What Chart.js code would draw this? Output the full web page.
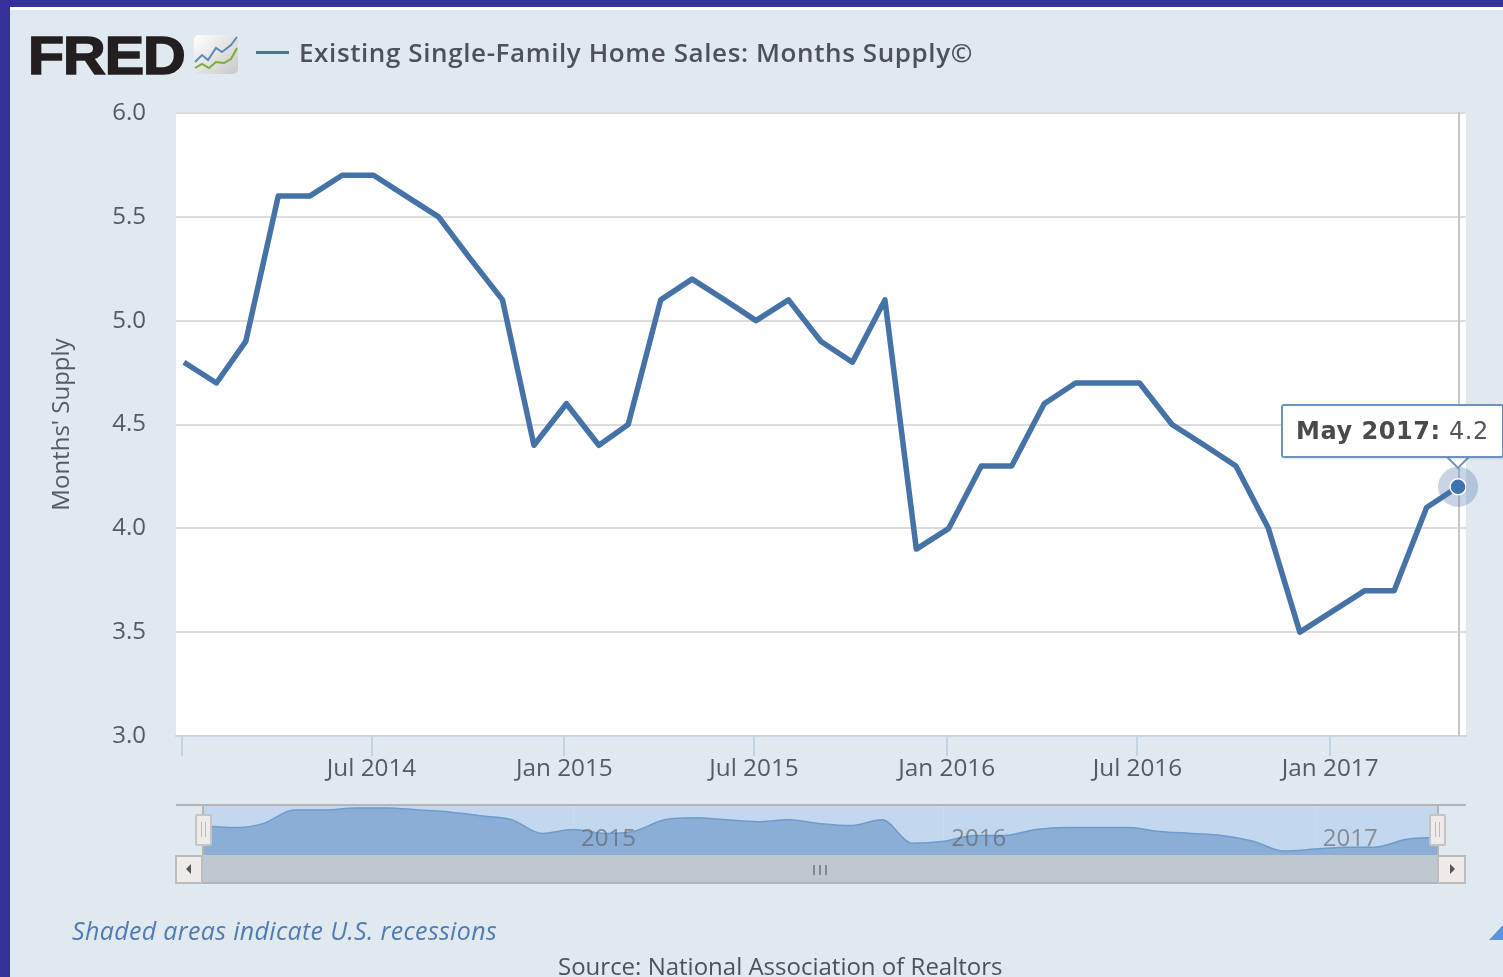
<!DOCTYPE html>
<html><head><meta charset="utf-8">
<script src="https://cdn.jsdelivr.net/npm/chart.js@4"></script>
<style>
html,body{margin:0;padding:0;width:1503px;height:977px;overflow:hidden;background:#343399}
#page{position:absolute;left:10px;top:7px;width:1493px;height:970px;background:#e0e8f0;overflow:hidden}
#wrap{position:absolute;left:0;top:0;width:1503px;height:977px;filter:blur(.7px);overflow:hidden}
#strip{position:absolute;left:10px;top:7px;width:1493px;height:3px;background:#fff}
canvas{position:absolute}
.t{position:absolute;white-space:nowrap}
#logo{left:28px;top:20px;font:bold 54px/70px "Liberation Sans";color:#231f20;-webkit-text-stroke:1.6px #231f20;letter-spacing:-1px;transform-origin:0 50%;transform:scaleX(1.095)}
#key{position:absolute;left:256px;top:51px;width:33px;height:3px;background:#4572a7}
#title{left:299px;top:35px;font:600 26px/34px "Open Sans";color:#4e5257;letter-spacing:.6px}
#shade{left:72px;top:914px;font:italic 25px/32px "Open Sans";color:#4f7cb3;letter-spacing:.33px}
#src{left:558px;top:951px;font:24px/30px "Open Sans";color:#4e5257}
#tip{position:absolute;box-sizing:border-box;background:#fff;border:2px solid #6f93bd;border-radius:3px;font:24px/50px "DejaVu Sans";color:#555;padding:0 13px;letter-spacing:.55px;white-space:nowrap;box-shadow:1px 1px 2px rgba(0,0,0,.12)}
#tip b{color:#4a4a4a}
#caret{position:absolute;width:14px;height:14px;background:#fff;border-right:2px solid #6f93bd;border-bottom:2px solid #6f93bd;transform:rotate(45deg)}
.bar{position:absolute;box-sizing:border-box}
.btn{background:#efebeb;border:2px solid #bdbdbd}
.handle{position:absolute;box-sizing:border-box;width:17px;height:32px;top:814px;background:#efebeb;border:2px solid #c4c4c4;border-radius:2px}
.handle:after{content:"";position:absolute;left:4px;top:6px;width:3px;height:15px;border-left:1.5px solid #bbb;border-right:1.5px solid #bbb}
.arr{position:absolute;top:864px;width:0;height:0;border-top:5px solid transparent;border-bottom:5px solid transparent}
</style></head>
<body>
<div id="wrap">
<div id="page"></div>
<div id="strip"></div>
<canvas id="main" width="1503" height="977" style="left:0;top:0"></canvas>
<div class="bar" style="left:176px;top:804px;width:1290px;height:2px;background:#b5b5b5"></div>
<canvas id="nav" width="1234" height="49" style="left:203px;top:806px"></canvas>
<div class="bar" style="left:202px;top:806px;width:2px;height:50px;background:#b5b5b5"></div>
<div class="bar" style="left:1437px;top:806px;width:2px;height:50px;background:#b5b5b5"></div>
<div class="bar" style="left:203px;top:855px;width:1234px;height:29px;background:#bfc7d0;border-bottom:2px solid #b0b4b8"></div>
<div class="bar btn" style="left:175px;top:855px;width:28px;height:29px"></div>
<div class="bar btn" style="left:1437px;top:855px;width:29px;height:29px"></div>
<div class="arr" style="left:186px;border-right:5px solid #555"></div>
<div class="arr" style="left:1450px;border-left:5px solid #555"></div>
<div class="bar" style="left:813px;top:865px;width:14px;height:10px;border-left:2px solid #888;border-right:2px solid #888"></div>
<div class="bar" style="left:819px;top:865px;width:2px;height:10px;background:#888"></div>
<div class="handle" style="left:195px"></div>
<div class="handle" style="left:1429px"></div>
<div class="t" id="logo">FRED</div>
<svg style="position:absolute;left:194px;top:35px" width="45" height="40" viewBox="0 0 45 40">
<defs><linearGradient id="g" x1="0" y1="0" x2="1" y2="1"><stop offset="0" stop-color="#fff"/><stop offset="1" stop-color="#c8c8c8"/></linearGradient></defs>
<rect width="44" height="39" rx="5" fill="url(#g)"/>
<polyline points="1,27 8,20 14,25 22,13 28,17 37,10 43,2" fill="none" stroke="#5b8bb8" stroke-width="2"/>
<polyline points="1,33 8,29 15,33 22,27 30,28 37,24 43,13" fill="none" stroke="#7cab3c" stroke-width="2"/>
</svg>
<div id="key"></div>
<div class="t" id="title">Existing Single-Family Home Sales: Months Supply©</div>
<div class="t" id="shade">Shaded areas indicate U.S. recessions</div>
<div class="t" id="src">Source: National Association of Realtors</div>
<svg style="position:absolute;left:1489px;top:925px" width="14" height="15"><polygon points="14,0 14,15 0,15" fill="#5b93dd"/></svg>
<div id="caret"></div>
<div id="tip"></div>
</div>
<script>
const MONTHS = ["2014-01","2014-02","2014-03","2014-04","2014-05","2014-06","2014-07","2014-08","2014-09","2014-10","2014-11","2014-12",
"2015-01","2015-02","2015-03","2015-04","2015-05","2015-06","2015-07","2015-08","2015-09","2015-10","2015-11","2015-12",
"2016-01","2016-02","2016-03","2016-04","2016-05","2016-06","2016-07","2016-08","2016-09","2016-10","2016-11","2016-12",
"2017-01","2017-02","2017-03","2017-04","2017-05"];
const SUPPLY = [4.8,4.7,4.9,5.6,5.6,5.7,5.7,5.6,5.5,5.3,5.1,4.4,
4.6,4.4,4.5,5.1,5.2,5.1,5.0,5.1,4.9,4.8,5.1,3.9,
4.0,4.3,4.3,4.6,4.7,4.7,4.7,4.5,4.4,4.3,4.0,3.5,
3.6,3.7,3.7,4.1,4.2];
const X_TICK_MONTHS = ["2014-01","2014-07","2015-01","2015-07","2016-01","2016-07","2017-01"];
const X_TICK_LABELS = ["","Jul 2014","Jan 2015","Jul 2015","Jan 2016","Jul 2016","Jan 2017"];
const Y_TICKS = [3.0,3.5,4.0,4.5,5.0,5.5,6.0];
const NAV_YEARS = ["2015","2016","2017"];
const NAV_YEAR_MONTHS = ["2015-01","2016-01","2017-01"];
const SERIES_NAME = "Existing Single-Family Home Sales: Months Supply©";

const dayOf = m => { const [y,mo] = m.split("-").map(Number); return (Date.UTC(y,mo-1,1)-Date.UTC(2014,0,1))/864e5; };
const points = MONTHS.map((m,i)=>({x:dayOf(m),y:SUPPLY[i]}));
const lastDay = dayOf(MONTHS[MONTHS.length-1]);
const monthName = m => new Date(dayOf(m)*864e5+Date.UTC(2014,0,1)).toLocaleString("en-US",{month:"short",timeZone:"UTC"})+" "+m.slice(0,4);
const TEXT = "#555b61";
Chart.defaults.animation = false;

const decor = {
  id:"decor",
  beforeDraw(c){const a=c.chartArea,g=c.ctx;g.save();g.fillStyle="#fff";g.fillRect(a.left,a.top-1,a.width,a.height+1);g.restore();},
  beforeDatasetsDraw(c){
    const el=c.getDatasetMeta(0).data[SUPPLY.length-1],a=c.chartArea,g=c.ctx;
    g.save();
    g.strokeStyle="#c4c6c8";g.lineWidth=2;g.beginPath();g.moveTo(el.x+1,a.top-1);g.lineTo(el.x+1,a.bottom);g.stroke();
    g.fillStyle="rgba(69,114,167,.3)";g.beginPath();g.arc(el.x,el.y,20,0,Math.PI*2);g.fill();
    g.restore();
  }
};
const main = new Chart(document.getElementById("main"),{
  type:"line",
  plugins:[decor],
  data:{datasets:[{label:SERIES_NAME,data:points,borderColor:"#4572a7",borderWidth:5.5,tension:0,fill:false,
    borderJoinStyle:"round",
    pointRadius:c=>c.dataIndex===SUPPLY.length-1?8:0,
    pointBackgroundColor:"#3f73ae",pointBorderColor:"#fff",pointBorderWidth:1.5}]},
  options:{
    responsive:false,
    layout:{padding:{left:48,top:113,right:37,bottom:191}},
    plugins:{legend:{display:false},tooltip:{enabled:false}},
    scales:{
      x:{type:"linear",min:-7.6,max:lastDay+7.6,
        afterBuildTicks:s=>{s.ticks=X_TICK_MONTHS.map(m=>({value:dayOf(m)-2}));},
        afterFit:s=>{s.height=50;},
        grid:{drawOnChartArea:false,color:"#c3d3e3",lineWidth:2,tickLength:20},
        border:{color:"#c8d6e6",width:2},
        ticks:{autoSkip:false,maxRotation:0,padding:-2,color:TEXT,font:{family:"Open Sans",size:24.3},
          callback:(v,i)=>X_TICK_LABELS[i]}},
      y:{min:3,max:6,
        afterBuildTicks:s=>{s.ticks=Y_TICKS.map(v=>({value:v}));},
        afterFit:s=>{s.width=128;},
        grid:{color:"#dcdcdc",lineWidth:2,drawTicks:false},
        border:{display:false},
        ticks:{padding:30,color:TEXT,font:{family:"Open Sans",size:24},callback:v=>v.toFixed(1)},
        title:{display:true,text:"Months' Supply",color:TEXT,font:{family:"Open Sans",size:24},padding:0}}
    }
  }
});
const navText = {
  id:"navText",
  afterDatasetsDraw(c){
    const g=c.ctx,s=c.scales.x;g.save();g.font='24px "Open Sans"';g.fillStyle="rgba(90,90,90,.6)";g.textAlign="center";g.textBaseline="middle";
    NAV_YEARS.forEach((t,i)=>g.fillText(t,s.getPixelForValue(dayOf(NAV_YEAR_MONTHS[i]))+35,33));
    g.restore();
  }
};
new Chart(document.getElementById("nav"),{
  type:"line",
  plugins:[navText],
  data:{datasets:[{data:points,borderColor:"#6f9ccc",borderWidth:1.5,backgroundColor:"#8aaed6",fill:"start",cubicInterpolationMode:"monotone",pointRadius:0}]},
  options:{
    responsive:false,
    layout:{padding:0},
    plugins:{legend:{display:false},tooltip:{enabled:false}},
    scales:{
      x:{type:"linear",min:0,max:lastDay,display:true,
        afterBuildTicks:s=>{s.ticks=NAV_YEAR_MONTHS.map(m=>({value:dayOf(m)}));},
        afterFit:s=>{s.height=0;},
        ticks:{display:false},border:{display:false},
        grid:{color:"rgba(255,255,255,.12)",drawTicks:false}},
      y:{display:false,min:3.3,max:5.8}
    }
  }
});
document.getElementById("nav").style.background="#c3d7ee";

const el = main.getDatasetMeta(0).data[SUPPLY.length-1];
const tip = document.getElementById("tip");
tip.innerHTML = "<b>"+monthName(MONTHS[MONTHS.length-1])+":</b> "+SUPPLY[SUPPLY.length-1];
tip.style.left = (el.x-177)+"px";
tip.style.top = (el.y-83)+"px";
const caret = document.getElementById("caret");
caret.style.left = (el.x-8)+"px";
caret.style.top = (el.y-37)+"px";
</script>
</body></html>
